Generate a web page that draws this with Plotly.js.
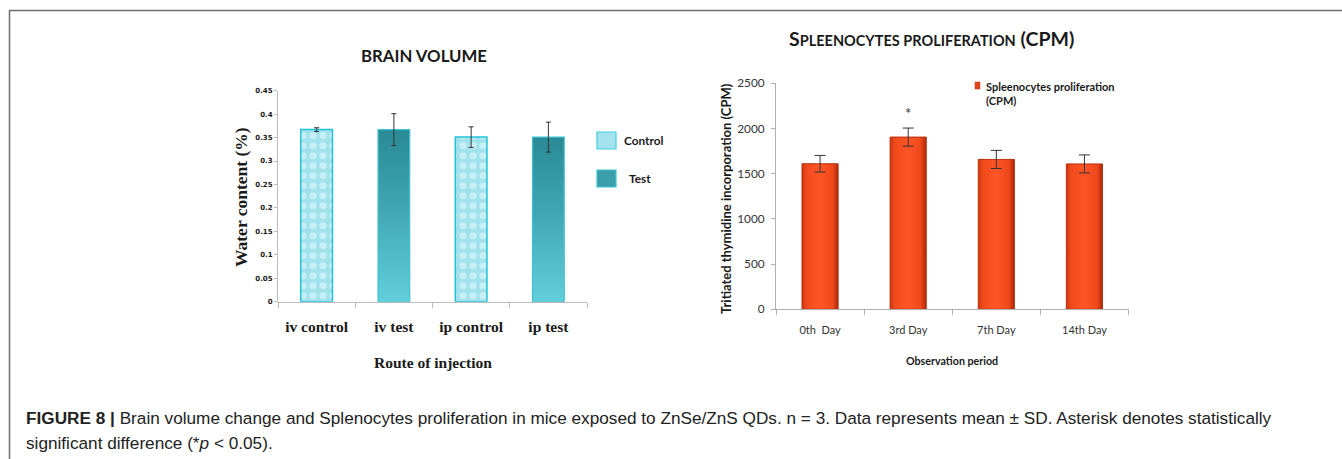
<!DOCTYPE html>
<html>
<head>
<meta charset="utf-8">
<script src="https://cdn.plot.ly/plotly-3.0.1.min.js"></script>
<style>
  html, body { margin: 0; padding: 0; background: #ffffff; }
  #chart { width: 1342px; height: 459px; }
</style>
</head>
<body>
<div id="chart"></div>
<script>
// ---------- Data: Brain volume ----------
const brainCategories = ["iv control", "iv test", "ip control", "ip test"];
const controlX = ["iv control", "ip control"];
const controlValues = [0.367, 0.351];
const controlErrors = [0.004, 0.022];
const testX = ["iv test", "ip test"];
const testValues = [0.367, 0.351];
const testErrors = [0.034, 0.032];
const brainTicks = [0, 0.05, 0.1, 0.15, 0.2, 0.25, 0.3, 0.35, 0.4, 0.45];

// ---------- Data: Spleenocytes proliferation ----------
const spleenCategories = ["0th  Day", "3rd Day", "7th Day", "14th Day"];
const spleenValues = [1610, 1905, 1658, 1608];
const spleenErrors = [92, 100, 100, 100];
const spleenSignificance = ["", "*", "", ""];
const spleenTicks = [0, 500, 1000, 1500, 2000, 2500];

const W = 1342, H = 459;
const px = v => v / W;
const py = v => 1 - v / H;

const traces = [
  {
    type: "bar", name: "Control", x: controlX, y: controlValues,
    xaxis: "x", yaxis: "y", width: 0.41, showlegend: false,
    marker: {
      color: "#9ee0ea",
      pattern: { shape: ".", bgcolor: "#a0e1eb", fgcolor: "#c6f0f6", size: 10, solidity: 0.4, fillmode: "replace" },
      line: { color: "#22c3d6", width: 1.5 }
    },
    error_y: { type: "data", array: controlErrors, visible: true, color: "#333333", thickness: 1, width: 2.5 }
  },
  {
    type: "bar", name: "Test", x: testX, y: testValues,
    xaxis: "x", yaxis: "y", width: 0.41, showlegend: false,
    marker: { color: "#40a9b5", line: { color: "#3cc3d2", width: 1.2 } },
    error_y: { type: "data", array: testErrors, visible: true, color: "#333333", thickness: 1, width: 2.5 }
  },
  {
    type: "bar", name: "Spleenocytes proliferation (CPM)", x: spleenCategories, y: spleenValues,
    xaxis: "x2", yaxis: "y2", width: 0.41, showlegend: false,
    marker: { color: "#f24a1c", line: { color: "#b8300e", width: 1 } },
    error_y: { type: "data", array: spleenErrors, visible: true, color: "#333333", thickness: 1, width: 5.5 }
  }
];

const serif = "Liberation Serif, Times New Roman, serif";
const sans = "Lato, Open Sans, sans-serif";
const captionFont = "Liberation Sans, Arial, sans-serif";

const annotations = [
  // Left title
  { xref: "paper", yref: "paper", x: px(424), y: py(56), text: "<b>BRAIN VOLUME</b>", showarrow: false,
    xanchor: "center", yanchor: "middle", font: { family: sans, size: 16.8, color: "#1a1a1a" } },
  // Right title (small caps look)
  { xref: "paper", yref: "paper", x: px(931), y: py(38),
    text: "<b>S<span style='font-size:14.5px'>PLEENOCYTES PROLIFERATION</span> (CPM)</b>", showarrow: false,
    xanchor: "center", yanchor: "middle", font: { family: sans, size: 19.5, color: "#1a1a1a" } },
  // Left axis titles
  { xref: "paper", yref: "paper", x: px(241), y: py(197), text: "<b>Water content (%)</b>", textangle: -90,
    showarrow: false, xanchor: "center", yanchor: "middle", font: { family: serif, size: 17.5, color: "#1a1a1a" } },
  { xref: "paper", yref: "paper", x: px(433), y: py(362), text: "<b>Route of injection</b>",
    showarrow: false, xanchor: "center", yanchor: "middle", font: { family: serif, size: 15.5, color: "#1a1a1a" } },
  // Right axis titles
  { xref: "paper", yref: "paper", x: px(726), y: py(199), text: "<b>Tritiated thymidine incorporation (CPM)</b>", textangle: -90,
    showarrow: false, xanchor: "center", yanchor: "middle", font: { family: sans, size: 13, color: "#1a1a1a" } },
  { xref: "paper", yref: "paper", x: px(952), y: py(360), text: "<b>Observation period</b>",
    showarrow: false, xanchor: "center", yanchor: "middle", font: { family: sans, size: 10.7, color: "#1a1a1a" } },
  // Left legend labels
  { xref: "paper", yref: "paper", x: px(622), y: py(140), text: "<b>Control</b>",
    showarrow: false, xanchor: "left", yanchor: "middle", font: { family: sans, size: 11.8, color: "#1a1a1a" } },
  { xref: "paper", yref: "paper", x: px(627), y: py(178), text: "<b>Test</b>",
    showarrow: false, xanchor: "left", yanchor: "middle", font: { family: sans, size: 11.8, color: "#1a1a1a" } },
  // Right legend label
  { xref: "paper", yref: "paper", x: px(984), y: py(93.5), text: "<b>Spleenocytes proliferation<br>(CPM)</b>",
    showarrow: false, xanchor: "left", yanchor: "middle", align: "left", font: { family: sans, size: 11, color: "#1a1a1a" } },
  // Caption
  { xref: "paper", yref: "paper", x: px(24), y: py(418), xanchor: "left", yanchor: "middle", showarrow: false,
    text: "<b>FIGURE 8 |</b> Brain volume change and Splenocytes proliferation in mice exposed to ZnSe/ZnS QDs. n = 3. Data represents mean ± SD. Asterisk denotes statistically",
    font: { family: captionFont, size: 17.2, color: "#222222" } },
  { xref: "paper", yref: "paper", x: px(24), y: py(443), xanchor: "left", yanchor: "middle", showarrow: false,
    text: "significant difference (*<i>p</i> &lt; 0.05).",
    font: { family: captionFont, size: 17.2, color: "#222222" } }
];

// Significance asterisks placed above error bars through the data axes
spleenSignificance.forEach((s, i) => {
  if (s) {
    annotations.push({ xref: "x2", yref: "y2", x: spleenCategories[i], y: spleenValues[i] + spleenErrors[i] + 170,
      text: s, showarrow: false, xanchor: "center", yanchor: "middle", font: { family: sans, size: 15, color: "#333333" } });
  }
});

const shapes = [
  // figure frame
  { type: "line", xref: "paper", yref: "paper", x0: px(9), x1: 1, y0: py(10.5), y1: py(10.5), line: { color: "#6e6e6e", width: 1.5 } },
  { type: "line", xref: "paper", yref: "paper", x0: px(9.5), x1: px(9.5), y0: py(10), y1: 0, line: { color: "#6e6e6e", width: 1.5 } },
  // left legend swatches
  { type: "rect", xref: "paper", yref: "paper", x0: px(597), x1: px(616), y0: py(149), y1: py(132),
    fillcolor: "#a4e3ee", line: { color: "#3fd0e0", width: 1.2 } },
  { type: "rect", xref: "paper", yref: "paper", x0: px(597), x1: px(616), y0: py(187), y1: py(170),
    fillcolor: "#3a9fab", line: { color: "#3cc3d2", width: 1.2 } },
  // right legend swatch
  { type: "rect", xref: "paper", yref: "paper", x0: px(975), x1: px(980), y0: py(89), y1: py(82),
    fillcolor: "#e8441a", line: { color: "#b8300e", width: 0.5 } }
];

const layout = {
  width: W, height: H,
  margin: { l: 0, r: 0, t: 0, b: 0 },
  paper_bgcolor: "#ffffff", plot_bgcolor: "#ffffff",
  barmode: "overlay",
  showlegend: false,
  xaxis: {
    domain: [px(278), px(587)], anchor: "y",
    type: "category", categoryorder: "array", categoryarray: brainCategories,
    range: [-0.5, 3.5],
    showline: true, linecolor: "#bdbdbd", linewidth: 1,
    ticks: "outside", tickson: "boundaries", ticklen: 5, tickcolor: "#bdbdbd",
    ticklabelstandoff: 11,
    tickfont: { family: serif, size: 15.5, color: "#1a1a1a", weight: "bold" },
    showgrid: false, zeroline: false, fixedrange: true
  },
  yaxis: {
    domain: [py(301.7), py(90.7)], anchor: "x",
    range: [0, 0.45], tickmode: "array", tickvals: brainTicks,
    ticktext: brainTicks.map(v => String(v)),
    showline: true, linecolor: "#bdbdbd", linewidth: 1,
    ticks: "outside", ticklen: 3, tickcolor: "#bdbdbd",
    tickfont: { family: "DejaVu Sans, sans-serif", size: 7, color: "#1a1a1a", weight: "bold" },
    showgrid: false, zeroline: false, fixedrange: true
  },
  xaxis2: {
    domain: [px(776), px(1128.5)], anchor: "y2",
    type: "category", categoryorder: "array", categoryarray: spleenCategories,
    range: [-0.5, 3.5],
    showline: true, linecolor: "#b0b0b0", linewidth: 1,
    ticks: "outside", tickson: "boundaries", ticklen: 5, tickcolor: "#b0b0b0",
    ticklabelstandoff: 10,
    tickfont: { family: sans, size: 11, color: "#333333" },
    showgrid: false, zeroline: false, fixedrange: true
  },
  yaxis2: {
    domain: [py(309.3), py(83.3)], anchor: "x2",
    range: [0, 2500], tickmode: "array", tickvals: spleenTicks,
    showline: true, linecolor: "#b0b0b0", linewidth: 1,
    ticks: "outside", ticklen: 4, tickcolor: "#b0b0b0",
    ticklabelstandoff: 4,
    tickfont: { family: sans, size: 11.8, color: "#333333" },
    showgrid: false, zeroline: false, fixedrange: true
  },
  annotations: annotations,
  shapes: shapes
};

Plotly.newPlot("chart", traces, layout, { staticPlot: true, displayModeBar: false }).then(gd => {
  const svgNS = "http://www.w3.org/2000/svg";
  const svg = gd.querySelector(".main-svg");
  let defs = svg.querySelector("defs");
  if (!defs) { defs = document.createElementNS(svgNS, "defs"); svg.insertBefore(defs, svg.firstChild); }
  function addGrad(id, vertical, stops) {
    const g = document.createElementNS(svgNS, "linearGradient");
    g.setAttribute("id", id);
    g.setAttribute("x1", "0"); g.setAttribute("y1", "0");
    g.setAttribute("x2", vertical ? "0" : "1"); g.setAttribute("y2", vertical ? "1" : "0");
    stops.forEach(([o, c]) => {
      const s = document.createElementNS(svgNS, "stop");
      s.setAttribute("offset", o); s.setAttribute("stop-color", c);
      g.appendChild(s);
    });
    defs.appendChild(g);
  }
  addGrad("gradTest", true, [["0", "#2a8a95"], ["0.45", "#3ea6b2"], ["1", "#62cfdc"]]);
  addGrad("gradOrange", false, [["0", "#c9360f"], ["0.12", "#f04a1c"], ["0.5", "#ff5526"], ["0.85", "#ee481b"], ["1", "#a9290a"]]);
  const barTraces = gd.querySelectorAll(".barlayer .trace");
  if (barTraces[1]) barTraces[1].querySelectorAll(".point path").forEach(p => { p.style.fill = "url(#gradTest)"; });
  if (barTraces[2]) barTraces[2].querySelectorAll(".point path").forEach(p => { p.style.fill = "url(#gradOrange)"; });
});
</script>
</body>
</html>
